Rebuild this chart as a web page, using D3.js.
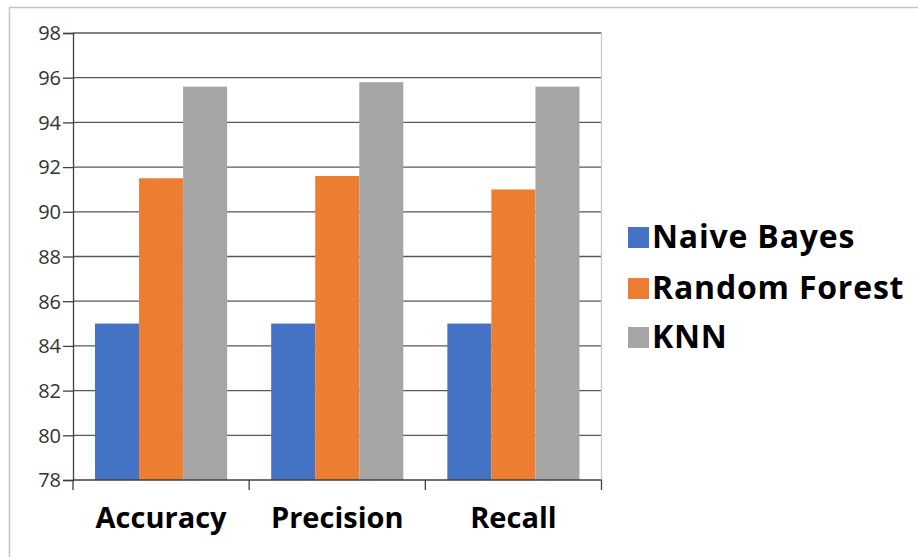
<!DOCTYPE html>
<html><head><meta charset="utf-8">
<script src="https://cdn.jsdelivr.net/npm/d3@7"></script>
<style>body{margin:0;background:#fff}svg{display:block}</style>
</head><body>
<script>
const categories = ["Accuracy", "Precision", "Recall"];
const seriesNames = ["Naive Bayes", "Random Forest", "KNN"];
const naiveBayes = [85, 85, 85];
const randomForest = [91.5, 91.6, 91.0];
const knn = [95.6, 95.8, 95.6];
const yTicks = [78, 80, 82, 84, 86, 88, 90, 92, 94, 96, 98];
const colors = ["#4472C4", "#ED7D31", "#A5A5A5"];
const seriesValues = [naiveBayes, randomForest, knn];

(function () {
const W = 918, H = 557;
const svg = d3.select("body").append("svg").attr("width", W).attr("height", H);
svg.append("rect").attr("width", W).attr("height", H).attr("fill", "#fff");

// outer frame
svg.append("path").attr("d", `M9.5,${H} V7.5 H${W}`).attr("fill", "none").attr("stroke", "#c4c4c4").attr("stroke-width", 1.5);

const mLeft = 73, mRight = 601.5, mTop = 33, mBottom = 480;
const x0 = d3.scaleBand().domain(categories).range([mLeft, mRight]).paddingInner(0).paddingOuter(0);
const x1 = d3.scaleBand().domain(seriesNames).range([x0.bandwidth() / 8, x0.bandwidth() * 7 / 8]).padding(0);
const y = d3.scaleLinear().domain([78, 98]).range([mBottom, mTop]);

// gridlines
svg.append("g").selectAll("line").data(yTicks.slice(1)).join("line")
  .attr("x1", mLeft).attr("x2", mRight).attr("y1", d => y(d)).attr("y2", d => y(d))
  .attr("stroke", "#595959").attr("stroke-width", 1.3);

// plot right border
svg.append("line").attr("x1", mRight).attr("x2", mRight).attr("y1", mTop).attr("y2", mBottom)
  .attr("stroke", "#c8c8c8").attr("stroke-width", 1.3);

// bars
const rows = categories.map((c, i) => ({ c, vals: seriesValues.map((s, j) => ({ name: seriesNames[j], v: s[i], j })) }));
svg.append("g").selectAll("g").data(rows).join("g")
  .attr("transform", d => `translate(${x0(d.c)},0)`)
  .selectAll("rect").data(d => d.vals).join("rect")
  .attr("x", d => x1(d.name)).attr("width", x1.bandwidth())
  .attr("y", d => y(d.v)).attr("height", d => y(78) - y(d.v))
  .attr("fill", d => colors[d.j]);

// y axis
const yAxis = d3.axisLeft(y).tickValues(yTicks).tickSize(10).tickPadding(2).tickFormat(d3.format("d"));
const ya = svg.append("g").attr("transform", `translate(${mLeft},0)`).call(yAxis);
ya.select(".domain").attr("stroke", "#404040").attr("stroke-width", 1.3);
ya.selectAll(".tick line").attr("stroke", "#404040").attr("stroke-width", 1.3);
ya.selectAll(".tick text").attr("font-family", "'Open Sans', sans-serif").attr("font-size", 20).attr("fill", "#333").attr("dy", "0.34em");

// x axis
const xa = svg.append("g").attr("transform", `translate(0,${mBottom})`);
xa.append("line").attr("x1", mLeft).attr("x2", mRight).attr("stroke", "#404040").attr("stroke-width", 1.3);
const bounds = [mLeft, ...categories.map(c => x0(c) + x0.bandwidth())];
xa.selectAll("line.t").data(bounds).join("line").attr("class", "t")
  .attr("x1", d => d).attr("x2", d => d).attr("y1", 0).attr("y2", 10)
  .attr("stroke", "#404040").attr("stroke-width", 1.3);
xa.selectAll("text").data(categories).join("text")
  .attr("x", d => x0(d) + x0.bandwidth() / 2).attr("y", 48)
  .attr("text-anchor", "middle").attr("font-family", "'Open Sans', sans-serif")
  .attr("font-weight", "bold").attr("font-size", 29).attr("fill", "#000").text(d => d);

// legend
const lg = svg.append("g").attr("transform", "translate(628,0)");
const ly = [248, 299, 348];
lg.selectAll("rect").data(seriesNames).join("rect")
  .attr("x", 0).attr("y", (d, i) => ly[i] - 21).attr("width", 21).attr("height", 21)
  .attr("fill", (d, i) => colors[i]);
lg.selectAll("text").data(seriesNames).join("text")
  .attr("x", 24).attr("y", (d, i) => ly[i])
  .attr("font-family", "'Open Sans', sans-serif").attr("font-weight", "bold")
  .attr("font-size", 32).attr("letter-spacing", 0.8).attr("fill", "#000").text(d => d);
})();
</script>
</body></html>
